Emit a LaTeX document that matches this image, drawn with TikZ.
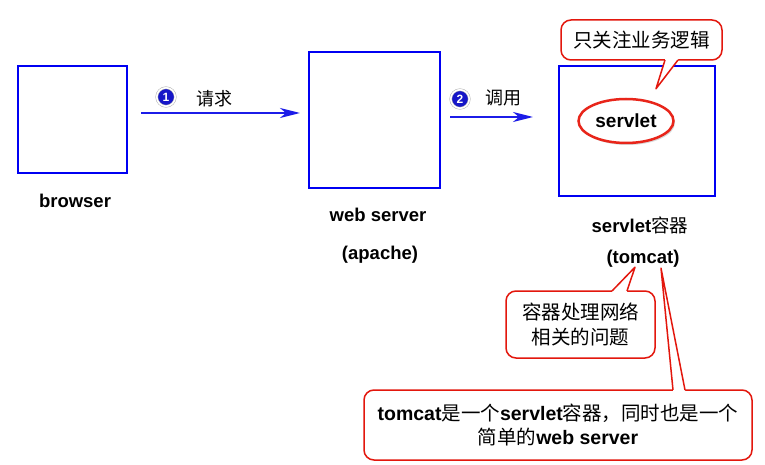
\documentclass[tikz,border=0pt]{standalone}
\usepackage{fontspec}
\setmainfont{Liberation Sans}
\newfontfamily\cjk{Noto Sans CJK SC}
\newcommand\zhtext[1]{{\cjk\mdseries #1}}
\usetikzlibrary{arrows.meta,calc,shapes.geometric,shadows}
\definecolor{tierblue}{HTML}{0000F2}
\definecolor{callblue}{HTML}{1C1CE8}
\definecolor{ballblue}{HTML}{1616C8}
\definecolor{notered}{HTML}{E3170D}
\definecolor{ringred}{HTML}{E8251A}

\begin{document}
\begin{tikzpicture}[x=1pt, y=-1pt,
  tier/.style={draw=tierblue, line width=2.5pt, inner sep=0pt, outer sep=0pt},
  tiername/.style={font=\fontsize{18.5}{22}\selectfont\bfseries},
  call/.style={-{Stealth[length=20pt,width=10pt,inset=6pt]}, line width=2pt, callblue},
  numball/.style={circle, fill=ballblue, draw=black!30, double=white, double distance=1.6pt,
    line width=.5pt, text=white, inner sep=0pt, minimum size=18.5pt,
    font=\fontsize{12}{12}\selectfont\bfseries},
  verb/.style={font=\fontsize{18}{18}\selectfont},
  note/.style={draw=notered, line width=1.5pt, fill=white, rounded corners=10pt,
    inner sep=0pt, outer sep=0pt, align=center},
  noteline/.style={draw=notered, line width=1.5pt, line join=round}
]
  \path[fill=white, use as bounding box] (0,0) rectangle (765,465);

  % the three tiers
  \node[tier, minimum width=109pt, minimum height=107pt] (browser) at (72.5,119.5) {};
  \node[tier, minimum width=131pt, minimum height=136pt] (web) at (374.5,120) {};
  \node[tier, minimum width=156pt, minimum height=130pt] (container) at (637,131) {};

  \node[tiername] (browsername) at (75,201) {browser};
  \node[tiername] (webname) at (378,215) {web server};
  \node[tiername] (apache) at (380,255) {(apache)};
  \node[tiername] (containername) at (640,225) {servlet\zhtext{容器}};
  \node[tiername] (tomcat) at (643,259) {(tomcat)};

  \node[ellipse, draw=ringred, line width=2.5pt, fill=white, inner sep=0pt,
    minimum width=95pt, minimum height=44pt,
    drop shadow={opacity=.3, shadow xshift=1.5pt, shadow yshift=-2pt},
    font=\fontsize{19}{19}\selectfont\bfseries] (servlet) at (626,121) {servlet};

  % request flow
  \draw[call] ([shift={(14,-6.5)}]browser.east) -- ([shift={(-9,-7)}]web.west);
  \draw[call] ([shift={(10,-3)}]web.east) -- ([shift={(-26,-14)}]container.west);
  \node[numball] (one) at (166,97) {1};
  \node[verb] (ask) at (214,99) {\zhtext{请求}};
  \node[numball] (two) at (460,99) {2};
  \node[verb] (invoke) at (503,98) {\zhtext{调用}};

  % callouts
  \node[note, minimum width=161pt, minimum height=40pt,
    font=\fontsize{19.5}{24}\selectfont\cjk] (logic) at (641.5,40) {只关注业务逻辑};
  \coordinate (logictip) at ($(servlet.north)+(30,-9)$);
  \coordinate (logicA) at ($(logic.south west)+(104,0)$);
  \coordinate (logicB) at ($(logic.south west)+(117,0)$);
  \fill[white] ($(logicA)+(0,-2)$) -- (logicA) -- (logictip) -- (logicB) -- ($(logicB)+(0,-2)$) -- cycle;
  \draw[noteline] (logicA) -- (logictip) -- (logicB);

  \node[note, minimum width=149pt, minimum height=67pt,
    font=\fontsize{19.5}{25}\selectfont\cjk] (network) at (580.5,324.5) {容器处理网络\\相关的问题};
  \coordinate (networktip) at ($(tomcat.south)+(-8,-4)$);
  \coordinate (networkA) at ($(network.north west)+(106,0)$);
  \coordinate (networkB) at ($(network.north west)+(121,0)$);
  \fill[white] ($(networkA)+(0,2)$) -- (networkA) -- (networktip) -- (networkB) -- ($(networkB)+(0,2)$) -- cycle;
  \draw[noteline] (networkA) -- (networktip) -- (networkB);

  \node[note, minimum width=388pt, minimum height=70pt,
    font=\fontsize{19.5}{24}\selectfont\bfseries] (tomcatnote) at (558,425)
    {tomcat\zhtext{是一个}servlet\zhtext{容器，同时也是一个}\\\zhtext{简单的}web server};
  \coordinate (tomcattip) at ($(tomcat.south)+(18,-3)$);
  \coordinate (tomcatA) at ($(tomcatnote.north west)+(309,0)$);
  \coordinate (tomcatB) at ($(tomcatnote.north west)+(321,0)$);
  \fill[white] ($(tomcatA)+(0,2)$) -- (tomcatA) -- (tomcattip) -- (tomcatB) -- ($(tomcatB)+(0,2)$) -- cycle;
  \draw[noteline] (tomcatA) -- (tomcattip) -- (tomcatB);
\end{tikzpicture}
\end{document}
